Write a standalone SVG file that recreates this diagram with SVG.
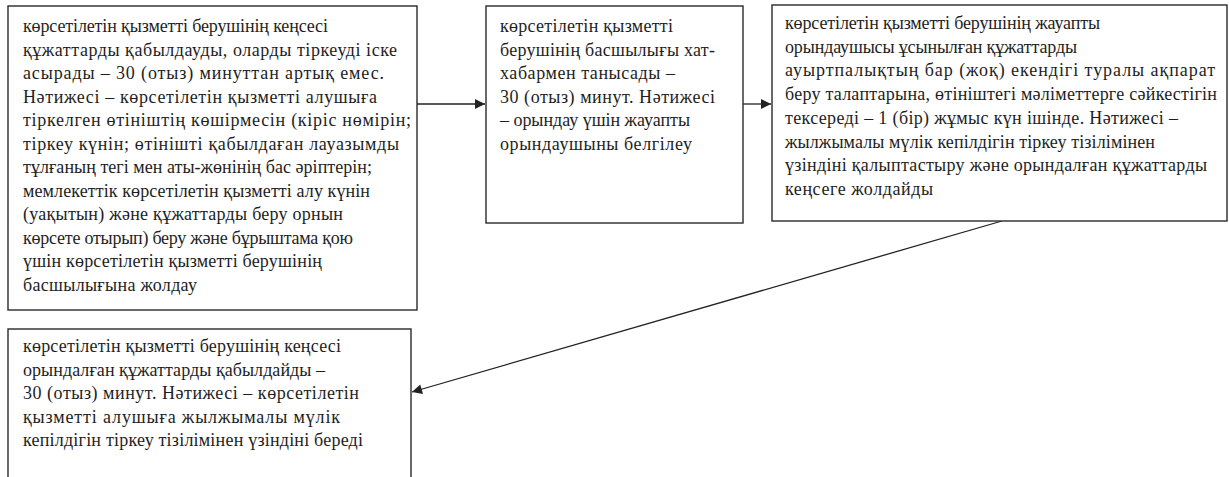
<svg xmlns="http://www.w3.org/2000/svg" width="1229" height="477" viewBox="0 0 1229 477">
<style>
.box{fill:#fff;stroke:#2a2a2a;stroke-width:1.4}
.t{font-family:"Liberation Serif","Times New Roman",serif;font-size:18px;fill:#1e1e1e}
.c{stroke:#222;stroke-width:1.3;fill:none}
</style>
<defs>
<marker id="ah" viewBox="0 0 10 10" refX="10" refY="5" markerWidth="11" markerHeight="10" markerUnits="userSpaceOnUse" orient="auto">
<path d="M0,0 L10,5 L0,10 z" fill="#222"/>
</marker>
</defs>
<rect width="1229" height="477" fill="#fff"/>
<g id="connectors">
<line class="c" x1="417" y1="104" x2="485" y2="104" marker-end="url(#ah)"/>
<line class="c" x1="743" y1="104" x2="771" y2="104" marker-end="url(#ah)"/>
<line class="c" x1="1002" y1="221" x2="412" y2="392" marker-end="url(#ah)"/>
</g>
<g id="n1">
<rect class="box" x="8" y="6" width="409" height="304"/>
<text class="t">
<tspan x="23" y="32" textLength="305">көрсетілетін қызметті берушінің кеңсесі</tspan>
<tspan x="23" y="55.5" textLength="374">құжаттарды қабылдауды, оларды тіркеуді іске</tspan>
<tspan x="23" y="79" textLength="361">асырады – 30 (отыз) минуттан артық емес.</tspan>
<tspan x="23" y="102.5" textLength="354">Нәтижесі – көрсетілетін қызметті алушыға</tspan>
<tspan x="23" y="126" textLength="388">тіркелген өтініштің көшірмесін (кіріс нөмірін;</tspan>
<tspan x="23" y="149.5" textLength="376">тіркеу күнін;  өтінішті қабылдаған лауазымды</tspan>
<tspan x="23" y="173" textLength="349">тұлғаның тегі мен аты-жөнінің бас әріптерін;</tspan>
<tspan x="23" y="196.5" textLength="347">мемлекеттік көрсетілетін қызметті алу күнін</tspan>
<tspan x="23" y="220" textLength="320">(уақытын) және құжаттарды беру орнын</tspan>
<tspan x="23" y="243.5" textLength="330">көрсете отырып) беру  және бұрыштама қою</tspan>
<tspan x="23" y="267" textLength="299">үшін көрсетілетін қызметті берушінің</tspan>
<tspan x="23" y="290.5" textLength="174">басшылығына жолдау</tspan>
</text>
</g>
<g id="n2">
<rect class="box" x="486" y="6" width="257" height="217"/>
<text class="t">
<tspan x="500" y="32" textLength="173">көрсетілетін қызметті</tspan>
<tspan x="500" y="55.5" textLength="215">берушінің басшылығы хат-</tspan>
<tspan x="500" y="79" textLength="175">хабармен танысады  –</tspan>
<tspan x="500" y="102.5" textLength="215">30 (отыз)  минут. Нәтижесі</tspan>
<tspan x="500" y="126" textLength="190">– орындау үшін жауапты</tspan>
<tspan x="500" y="149.5" textLength="192">орындаушыны белгілеу</tspan>
</text>
</g>
<g id="n3">
<rect class="box" x="772" y="5" width="455" height="216"/>
<text class="t">
<tspan x="785" y="29" textLength="315">көрсетілетін қызметті берушінің жауапты</tspan>
<tspan x="785" y="52.7" textLength="292">орындаушысы ұсынылған құжаттарды</tspan>
<tspan x="785" y="76.4" textLength="430">ауыртпалықтың  бар  (жоқ)  екендігі  туралы  ақпарат</tspan>
<tspan x="785" y="100.1" textLength="432">беру талаптарына, өтініштегі мәліметтерге сәйкестігін</tspan>
<tspan x="785" y="123.8" textLength="393">тексереді – 1 (бір) жұмыс күн ішінде. Нәтижесі –</tspan>
<tspan x="785" y="147.5" textLength="370">жылжымалы мүлік кепілдігін тіркеу тізілімінен</tspan>
<tspan x="785" y="171.2" textLength="422">үзіндіні қалыптастыру және орындалған  құжаттарды</tspan>
<tspan x="785" y="194.9" textLength="148">кеңсеге  жолдайды</tspan>
</text>
</g>
<g id="n4">
<rect class="box" x="8" y="329" width="403" height="160"/>
<text class="t">
<tspan x="23" y="352" textLength="318">көрсетілетін қызметті берушінің кеңсесі</tspan>
<tspan x="23" y="375.5" textLength="302">орындалған құжаттарды қабылдайды –</tspan>
<tspan x="23" y="399" textLength="336">30 (отыз) минут. Нәтижесі – көрсетілетін</tspan>
<tspan x="23" y="422.5" textLength="317">қызметті алушыға жылжымалы мүлік</tspan>
<tspan x="23" y="446" textLength="340">кепілдігін тіркеу тізілімінен үзіндіні береді</tspan>
</text>
</g>
</svg>
